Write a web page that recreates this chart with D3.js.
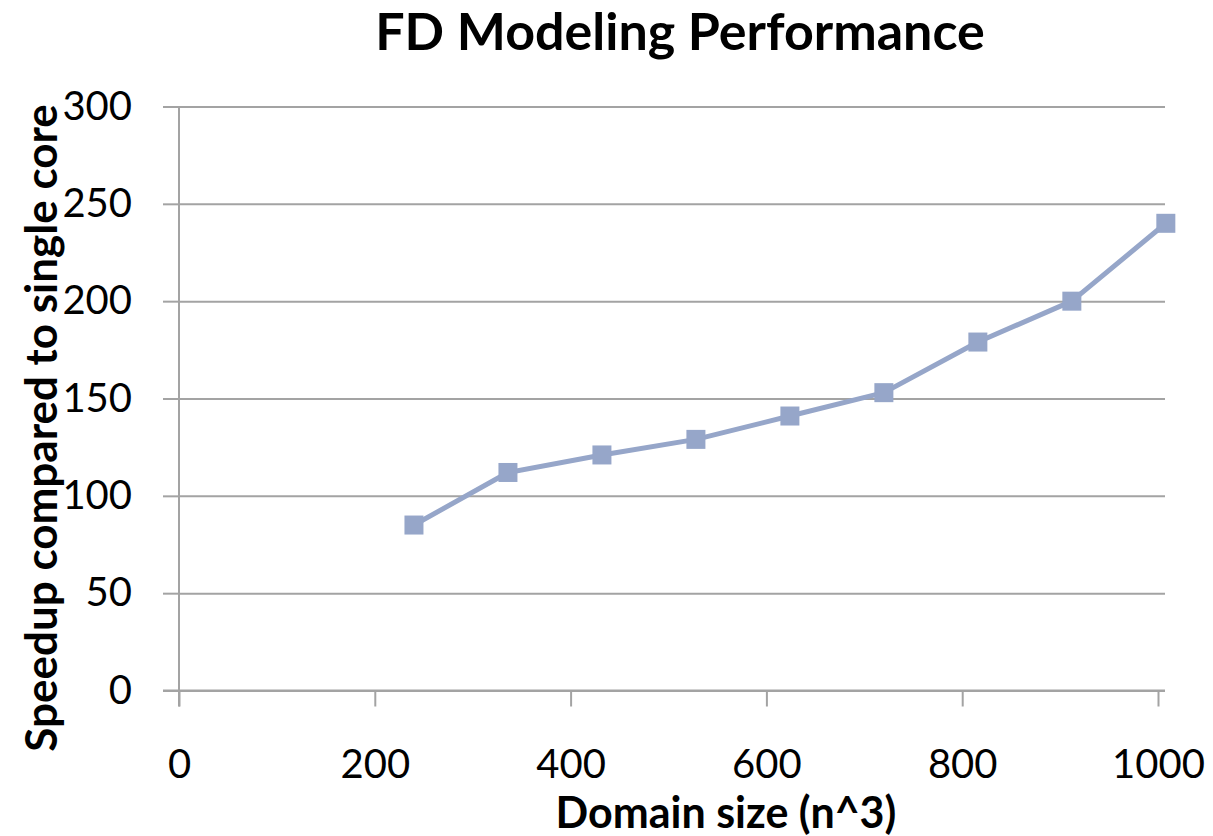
<!DOCTYPE html>
<html>
<head>
<meta charset="utf-8">
<script src="https://cdn.jsdelivr.net/npm/d3@7"></script>
<style>
  html, body { margin: 0; padding: 0; background: #ffffff; }
  svg { display: block; font-family: Lato, "Open Sans", sans-serif; }
</style>
</head>
<body>
<svg id="chart" width="1213" height="836"></svg>
<script>
// Domain size (n) for each run and the measured speedup over one core
const domainSizes = [240, 336, 432, 528, 624, 720, 816, 912, 1008];
const speedups = [85, 112, 121, 129, 141, 153, 179, 200, 240];

const xTicks = [0, 200, 400, 600, 800, 1000];
const yTicks = [0, 50, 100, 150, 200, 250, 300];

const chartTitle = "FD Modeling Performance";
const xTitle = "Domain size (n^3)";
const yTitle = "Speedup compared to single core";

const svg = d3.select("#chart");

const plot = { left: 179, right: 1165, top: 106.5, bottom: 690.5 };
const gridColor = "#a3a3a3";
const seriesColor = "#96a6c9";

const x = d3.scaleLinear().domain([0, 1000]).range([plot.left, 1158]);
const y = d3.scaleLinear().domain([0, 300]).range([plot.bottom, plot.top]);

// horizontal gridlines, extending left past the axis as tick marks
const grid = svg.append("g")
  .attr("transform", `translate(${plot.left},0)`)
  .call(d3.axisLeft(y).tickValues(yTicks).tickSize(-(plot.right - plot.left)).tickFormat(""));
grid.select(".domain").remove();
grid.selectAll(".tick line").attr("stroke", gridColor).attr("stroke-width", 2);

// y axis: outward ticks and labels
const yAxis = svg.append("g")
  .attr("transform", `translate(${plot.left},0)`)
  .call(d3.axisLeft(y).tickValues(yTicks).tickSize(16).tickPadding(31).tickFormat(d3.format("d")));
yAxis.select(".domain").remove();
yAxis.selectAll(".tick line").attr("stroke", gridColor).attr("stroke-width", 2);
yAxis.selectAll(".tick text")
  .attr("fill", "#000")
  .attr("font-size", 40)
  .attr("font-family", "Lato, sans-serif");

// x axis: ticks hanging below the zero line, labels further down
const xAxis = svg.append("g")
  .attr("transform", `translate(0,${plot.bottom})`)
  .call(d3.axisBottom(x).tickValues(xTicks).tickSize(16).tickFormat(d3.format("d")));
xAxis.select(".domain").remove();
xAxis.selectAll(".tick line").attr("stroke", gridColor).attr("stroke-width", 2);
xAxis.selectAll(".tick text")
  .attr("fill", "#000")
  .attr("font-size", 40)
  .attr("font-family", "Lato, sans-serif")
  .attr("y", 73.5)
  .attr("dy", "0.35em");

// axis lines
svg.append("line")
  .attr("x1", plot.left - 16).attr("x2", plot.right)
  .attr("y1", plot.bottom).attr("y2", plot.bottom)
  .attr("stroke", gridColor).attr("stroke-width", 2);
svg.append("line")
  .attr("x1", plot.left).attr("x2", plot.left)
  .attr("y1", plot.top).attr("y2", plot.bottom + 16)
  .attr("stroke", gridColor).attr("stroke-width", 2);

// speedup series
const points = domainSizes.map((d, i) => ({ n: d, s: speedups[i] }));

svg.append("path")
  .datum(points)
  .attr("fill", "none")
  .attr("stroke", seriesColor)
  .attr("stroke-width", 5)
  .attr("stroke-linejoin", "round")
  .attr("d", d3.line().x(d => x(d.n)).y(d => y(d.s)));

const markerSize = 19;
svg.append("g")
  .selectAll("rect")
  .data(points)
  .join("rect")
  .attr("x", d => x(d.n) - markerSize / 2)
  .attr("y", d => y(d.s) - markerSize / 2)
  .attr("width", markerSize)
  .attr("height", markerSize)
  .attr("fill", seriesColor);

// titles
svg.append("text")
  .attr("x", 680).attr("y", 30)
  .attr("text-anchor", "middle").attr("dominant-baseline", "central")
  .attr("font-size", 52).attr("font-weight", "bold")
  .text(chartTitle);

svg.append("text")
  .attr("x", 726).attr("y", 811)
  .attr("text-anchor", "middle").attr("dominant-baseline", "central")
  .attr("font-size", 43).attr("font-weight", "bold")
  .text(xTitle);

svg.append("text")
  .attr("transform", "translate(40,428) rotate(-90)")
  .attr("text-anchor", "middle").attr("dominant-baseline", "central")
  .attr("font-size", 44).attr("font-weight", "bold")
  .text(yTitle);
</script>
</body>
</html>
